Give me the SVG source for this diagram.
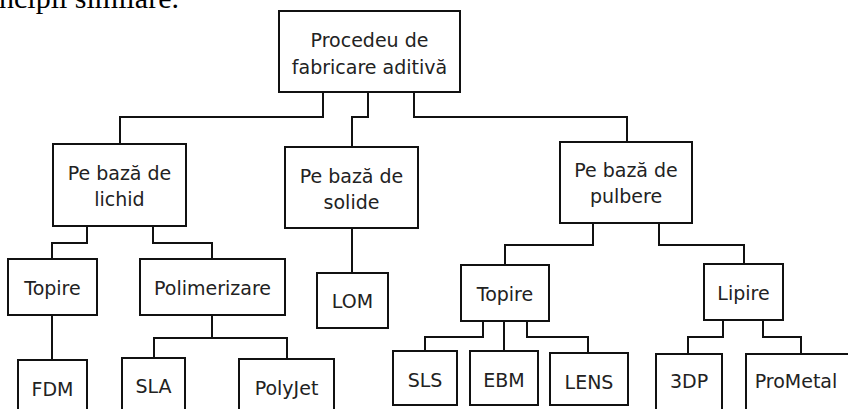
<svg xmlns="http://www.w3.org/2000/svg" width="848" height="409" viewBox="0 0 848 409">
<style>
.box{fill:#fff;stroke:#111;stroke-width:2}
.lbl{font-family:"DejaVu Sans",Verdana,sans-serif;font-size:19px;fill:#222;text-anchor:middle}
.con{fill:none;stroke:#111;stroke-width:2}
.para{font-family:"Liberation Serif","Times New Roman",serif;font-size:30px;fill:#000}
</style>
<rect width="848" height="409" fill="#fff"/>
<text class="para" x="-1" y="8">ncipii similare.</text>
<g id="connectors">
<path class="con" d="M323 92V117H120V144"/>
<path class="con" d="M368 92V117H352V147"/>
<path class="con" d="M414 92V117H627V142"/>
<path class="con" d="M87 226V243H52V259"/>
<path class="con" d="M153 226V243H212V259"/>
<path class="con" d="M52 315V360"/>
<path class="con" d="M212 315V338"/>
<path class="con" d="M154 358V338H287V359"/>
<path class="con" d="M352 228V273"/>
<path class="con" d="M593 223V245H505V265"/>
<path class="con" d="M659 223V245H744V264"/>
<path class="con" d="M483 321V337H425V351"/>
<path class="con" d="M504 321V351"/>
<path class="con" d="M527 321V337H588V353"/>
<path class="con" d="M723 320V337H688V354"/>
<path class="con" d="M763 320V337H801V354"/>
</g>
<g id="n-root"><rect class="box" x="279" y="11" width="181" height="81"/><text class="lbl" x="369.5" y="47">Procedeu de</text><text class="lbl" x="369.5" y="74">fabricare aditivă</text></g>
<g id="n-lichid"><rect class="box" x="53" y="144" width="133" height="82"/><text class="lbl" x="119.5" y="180">Pe bază de</text><text class="lbl" x="119.5" y="206">lichid</text></g>
<g id="n-solide"><rect class="box" x="285" y="147" width="133" height="81"/><text class="lbl" x="351.5" y="183">Pe bază de</text><text class="lbl" x="351.5" y="209">solide</text></g>
<g id="n-pulbere"><rect class="box" x="560" y="142" width="132" height="81"/><text class="lbl" x="626" y="177">Pe bază de</text><text class="lbl" x="626" y="203">pulbere</text></g>
<g id="n-topire1"><rect class="box" x="8" y="259" width="89" height="56"/><text class="lbl" x="52.5" y="295">Topire</text></g>
<g id="n-polimerizare"><rect class="box" x="140" y="259" width="145" height="56"/><text class="lbl" x="212.5" y="295">Polimerizare</text></g>
<g id="n-lom"><rect class="box" x="317" y="273" width="71" height="55"/><text class="lbl" x="352.5" y="308">LOM</text></g>
<g id="n-topire2"><rect class="box" x="461" y="265" width="88" height="56"/><text class="lbl" x="505" y="301">Topire</text></g>
<g id="n-lipire"><rect class="box" x="704" y="264" width="79" height="56"/><text class="lbl" x="743.5" y="300">Lipire</text></g>
<g id="n-fdm"><rect class="box" x="18" y="360" width="69" height="60"/><text class="lbl" x="52.5" y="396">FDM</text></g>
<g id="n-sla"><rect class="box" x="122" y="358" width="63" height="60"/><text class="lbl" x="153.5" y="393">SLA</text></g>
<g id="n-polyjet"><rect class="box" x="239" y="359" width="95" height="60"/><text class="lbl" x="286.5" y="395">PolyJet</text></g>
<g id="n-sls"><rect class="box" x="393" y="351" width="64" height="54"/><text class="lbl" x="425" y="387">SLS</text></g>
<g id="n-ebm"><rect class="box" x="470" y="351" width="68" height="54"/><text class="lbl" x="504" y="387">EBM</text></g>
<g id="n-lens"><rect class="box" x="550" y="353" width="78" height="52"/><text class="lbl" x="589" y="389">LENS</text></g>
<g id="n-3dp"><rect class="box" x="656" y="354" width="66" height="60"/><text class="lbl" x="689" y="388">3DP</text></g>
<g id="n-prometal"><rect class="box" x="746" y="354" width="110" height="60"/><text class="lbl" x="796" y="388">ProMetal</text></g>
</svg>
